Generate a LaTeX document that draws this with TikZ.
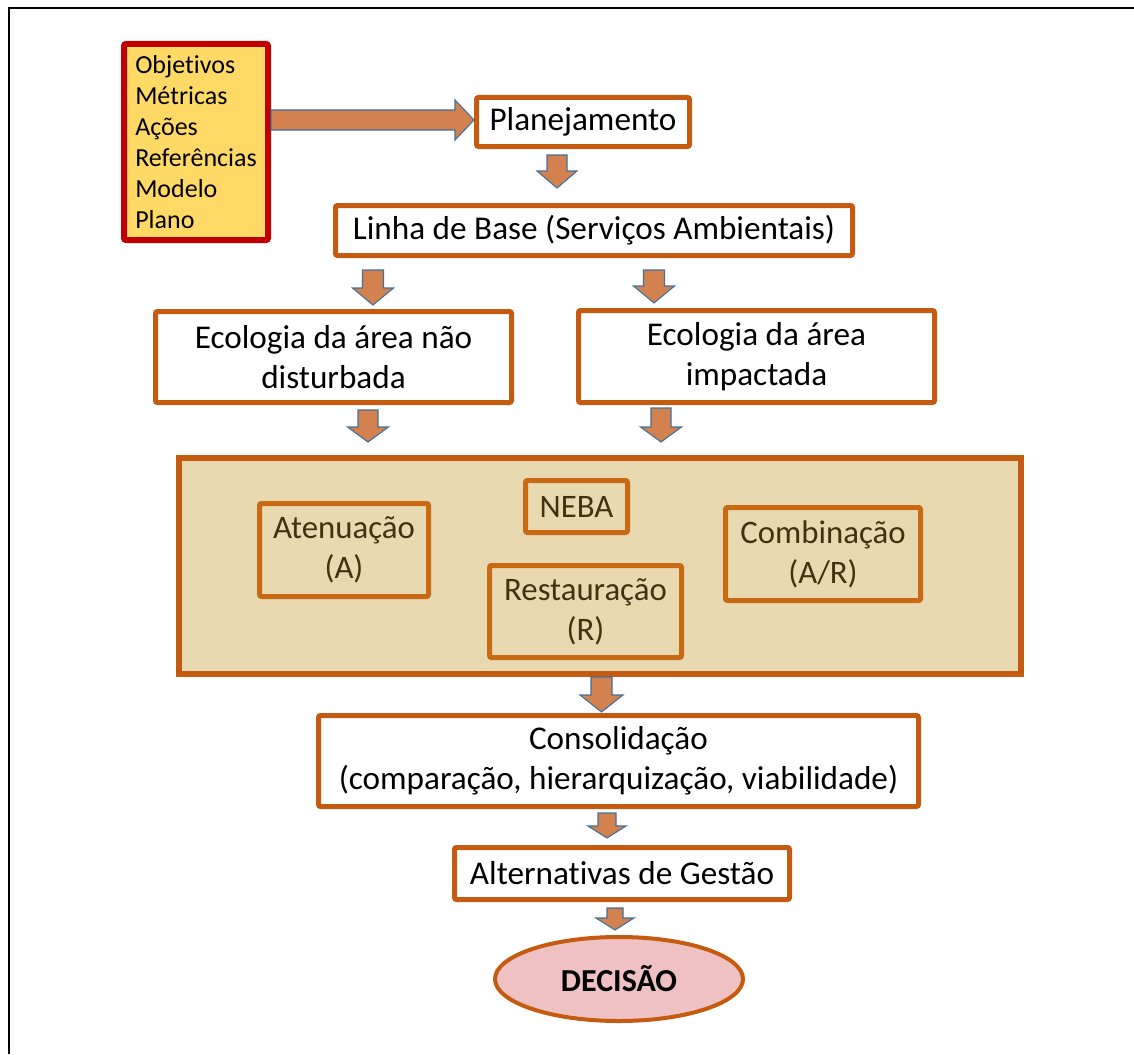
\documentclass[tikz,border=0pt]{standalone}
\usepackage{fontspec}
\setmainfont[Ligatures=NoCommon]{Carlito}
\usetikzlibrary{shapes.geometric}
\definecolor{bord}{HTML}{C55A11}
\definecolor{innerbord}{HTML}{C86A14}
\definecolor{arrfill}{HTML}{D3824F}
\definecolor{arrline}{HTML}{41719C}
\definecolor{bigfill}{HTML}{E8D9B1}
\definecolor{innertext}{HTML}{403311}
\definecolor{yel}{HTML}{FFD966}
\definecolor{redb}{HTML}{C00000}
\definecolor{pinkfill}{HTML}{EFC1C2}
\tikzset{
  mainbox/.style={draw=bord, line width=5pt, fill=white, rounded corners=2pt, align=center,
    inner sep=0pt, font=\fontsize{33.2}{40}\selectfont},
  innerbox/.style={draw=innerbord, line width=5pt, rounded corners=2pt, align=center,
    inner sep=0pt, text=innertext, font=\fontsize{32.8}{40}\selectfont},
  blockarrow/.style={fill=arrfill, draw=arrline, line width=1.1pt, line join=miter},
}
% \blockdown{cx}{top}{tip}{shaft half}{head half}{head length}
\newcommand\blockdown[6]{%
  \path[blockarrow] (#1-#4,#2) -- (#1+#4,#2) -- (#1+#4,#3-#6) -- (#1+#5,#3-#6) -- (#1,#3)
    -- (#1-#5,#3-#6) -- (#1-#4,#3-#6) -- cycle;}
\begin{document}
\begin{tikzpicture}[x=1pt,y=-1pt]
\useasboundingbox (0,0) rectangle (1134,1054);
% outer frame (partially visible)
\draw[line width=2.6pt] (9,1054) -- (9,8) -- (1134,8);

% yellow list box
\node[draw=redb, fill=yel, line width=6pt, rounded corners=2pt, minimum width=144pt, minimum height=196pt,
  inner sep=0pt, align=left, font=\fontsize{26}{31}\selectfont] (obj) at (196,142)
  {Objetivos\\Métricas\\Ações\\Referências\\Modelo\\Plano};

\node[mainbox, minimum width=213pt, minimum height=49pt] (plan) at (583,122) {Planejamento};
\node[mainbox, minimum width=517pt, minimum height=50pt] (linha) at (594,230.5) {Linha de Base (Serviços Ambientais)};
\node[mainbox, minimum width=356pt, minimum height=91pt] (eco1) at (333.5,357) {Ecologia da área não\\disturbada};
\node[mainbox, minimum width=356pt, minimum height=92pt] (eco2) at (756.5,356.5) {Ecologia da área\\impactada};

\node[draw=bord, fill=bigfill, line width=6pt, minimum width=842pt, minimum height=216pt, inner sep=0pt] (big) at (600,566) {};
\node[innerbox, minimum width=169pt, minimum height=93pt] (aten) at (344,550) {Atenuação\\(A)};
\node[innerbox, minimum width=102pt, minimum height=52pt] (neba) at (576.5,506.5) {NEBA};
\node[innerbox, minimum width=192pt, minimum height=92pt] (rest) at (585.5,611.5) {Restauração\\(R)};
\node[innerbox, minimum width=195pt, minimum height=93pt] (comb) at (823,554) {Combinação\\(A/R)};

\node[mainbox, minimum width=600pt, minimum height=91pt] (cons) at (618.5,761) {Consolidação\\(comparação, hierarquização, viabilidade)};
\node[mainbox, minimum width=335pt, minimum height=52pt] (alt) at (622,873.5) {Alternativas de Gestão};
\node[ellipse, draw=bord, fill=pinkfill, line width=4pt, minimum width=248pt, minimum height=84pt, inner sep=0pt,
  font=\bfseries\fontsize{32}{36}\selectfont] (dec) at (619,979) {DECISÃO};

% right arrow obj -> plan
\path[blockarrow] (obj.east |- 0,110) -- (455,110) -- (455,100) -- (plan.west |- 0,120) -- (455,140) -- (455,130)
  -- (obj.east |- 0,130) -- cycle;

% down arrows
\blockdown{557}{155}{188}{10}{20}{17}
\blockdown{373}{270}{305}{10.5}{20.5}{17}
\blockdown{654}{270}{303}{10.5}{20.5}{17}
\blockdown{368}{410}{442}{10}{20.5}{15}
\blockdown{661}{408}{442}{10}{20.5}{15}
\blockdown{601.5}{677}{712}{10.5}{21.5}{17}
\blockdown{607}{813}{838}{9}{19}{12}
\blockdown{615}{908}{930}{8}{19}{12}
\end{tikzpicture}
\end{document}
